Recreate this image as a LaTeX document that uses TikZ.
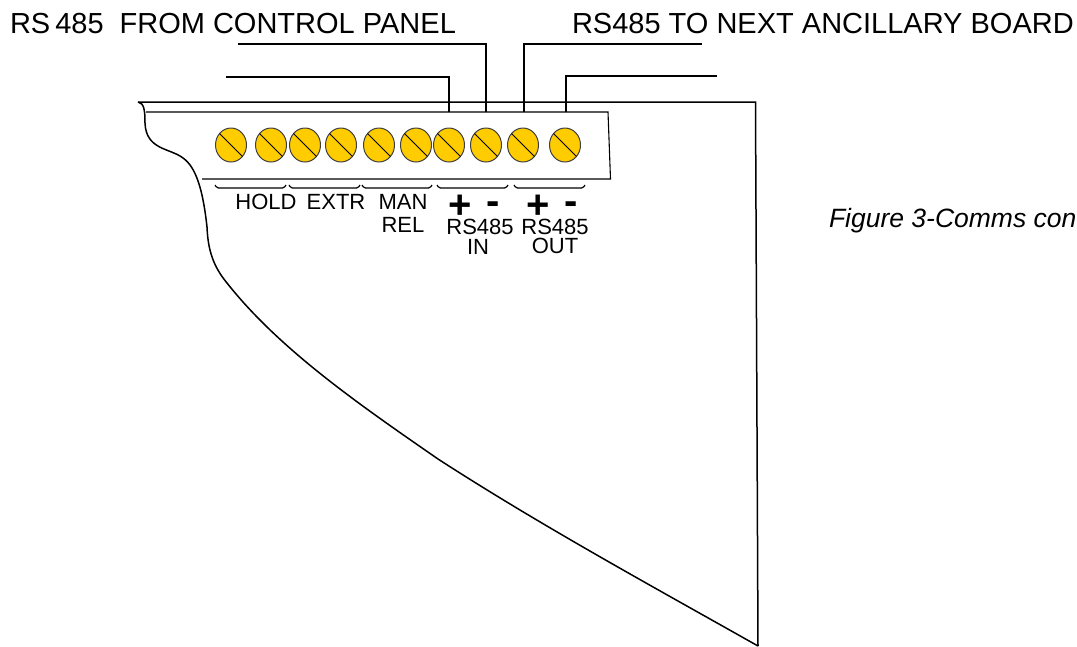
\documentclass[tikz,border=0pt]{standalone}
\usepackage{fontspec}
\setmainfont{Liberation Sans}
\usetikzlibrary{shapes.geometric}
\definecolor{screwgold}{RGB}{255,204,0}

\begin{document}
\begin{tikzpicture}[
			x=1pt, y=-1pt,
			base/.style={inner sep=0pt, outer sep=0pt},
			title/.style={base, anchor=base west, font=\fontsize{29}{29}\selectfont},
			legend/.style={base, align=center, font=\fontsize{22}{22}\selectfont},
			sign/.style={base, anchor=base, font=\fontsize{40}{40}\selectfont\bfseries},
			screw/.style={base, ellipse, draw=black!75, fill=screwgold, line width=1pt, minimum width=31pt, minimum height=34pt},
			slot/.style={line width=1pt, black},
			wire/.style={line width=1.5pt, black},
			outline/.style={line width=1.5pt, black},
			bracket/.style={line width=1.2pt, black, rounded corners=1.5pt},
			]

			\useasboundingbox (0,0) rectangle (1077,646);

			% case outline
			\draw [outline] (138,102) -- (755.5,102) -- (758,646);
			\draw [outline] (138,102) .. controls (144,103) and (145,110) .. (145,123)
				.. controls (146,150) and (170,148) .. (183,158)
				.. controls (196,167) and (203,190) .. (207,227)
				.. controls (208,250) and (213,266) .. (227,283)
				.. controls (280,350) and (360,405) .. (438,459)
				.. controls (540,525) and (650,585) .. (758,646);

			% terminal strip
			\draw [line width=1.1pt] (146,112) -- (608,112) -- (610.5,179) -- (202,179);

			\node [screw] (s1)  at (231,145) {};
			\node [screw] (s2)  at (271,145) {};
			\node [screw] (s3)  at (305,145) {};
			\node [screw] (s4)  at (341,145) {};
			\node [screw] (s5)  at (379,145) {};
			\node [screw] (s6)  at (416,145) {};
			\node [screw] (s7)  at (449,145) {};
			\node [screw] (s8)  at (486,145) {};
			\node [screw] (s9)  at (523,145) {};
			\node [screw] (s10) at (565,145) {};

			\draw [slot] (s1.135) -- (s1.-45);
			\draw [slot] (s2.135) -- (s2.-45);
			\draw [slot] (s3.135) -- (s3.-45);
			\draw [slot] (s4.135) -- (s4.-45);
			\draw [slot] (s5.135) -- (s5.-45);
			\draw [slot] (s6.135) -- (s6.-45);
			\draw [slot] (s7.135) -- (s7.-45);
			\draw [slot] (s8.135) -- (s8.-45);
			\draw [slot] (s9.135) -- (s9.-45);
			\draw [slot] (s10.135) -- (s10.-45);

			% wires
			\coordinate (inpos)   at (226,77);
			\coordinate (inneg)   at (238,44);
			\coordinate (outpos)  at (702,44);
			\coordinate (outneg)  at (717,76);
			\coordinate (s7top)   at (449,112);
			\coordinate (s8top)   at (486,112);
			\coordinate (s9top)   at (524,112);
			\coordinate (s10top)  at (566,112);

			\draw [wire] (inpos) -| (s7top);
			\draw [wire] (inneg) -| (s8top);
			\draw [wire] (outpos) -| (s9top);
			\draw [wire] (outneg) -| (s10top);

			% brackets
			\draw [bracket] (215,185) -- (217,188) -- (284,188) -- (286,185);
			\draw [bracket] (289,185) -- (291,188) -- (358,188) -- (360,185);
			\draw [bracket] (362,185) -- (364,188) -- (430,188) -- (432,185);
			\draw [bracket] (437,185) -- (439,188) -- (506,188) -- (508,185);
			\draw [bracket] (514,185) -- (516,188) -- (583,188) -- (585,185);

			% labels
			\node [title] (from) at (10,33.5) {RS\hspace{5pt}485\hspace{16pt}FROM CONTROL PANEL};
			\node [title] (next) at (572,33.5) {RS485 TO NEXT ANCILLARY BOARD};

			\node [legend] (hold) at (266,202) {HOLD};
			\node [legend] (extr) at (336,202) {EXTR};
			\node [legend] (man)  at (403,202) {MAN};
			\node [legend] (rel)  at (403,225) {REL};
			\node [legend] (rsin) at (480,227) {RS485};
			\node [legend] (in)   at (478,247) {IN};
			\node [legend] (rsout) at (555,227) {RS485};
			\node [legend] (out)  at (555,246) {OUT};

			\node [sign] (plusin)   at (460,218) {+};
			\node [sign] (minusin)  at (493,214) {-};
			\node [sign] (plusout)  at (538,218) {+};
			\node [sign] (minusout) at (571,214) {-};

			\node [base, anchor=base west, font=\fontsize{26.5}{26.5}\selectfont\itshape] (caption) at (829,227.5) {Figure 3-Comms con};

		\end{tikzpicture}
\end{document}
